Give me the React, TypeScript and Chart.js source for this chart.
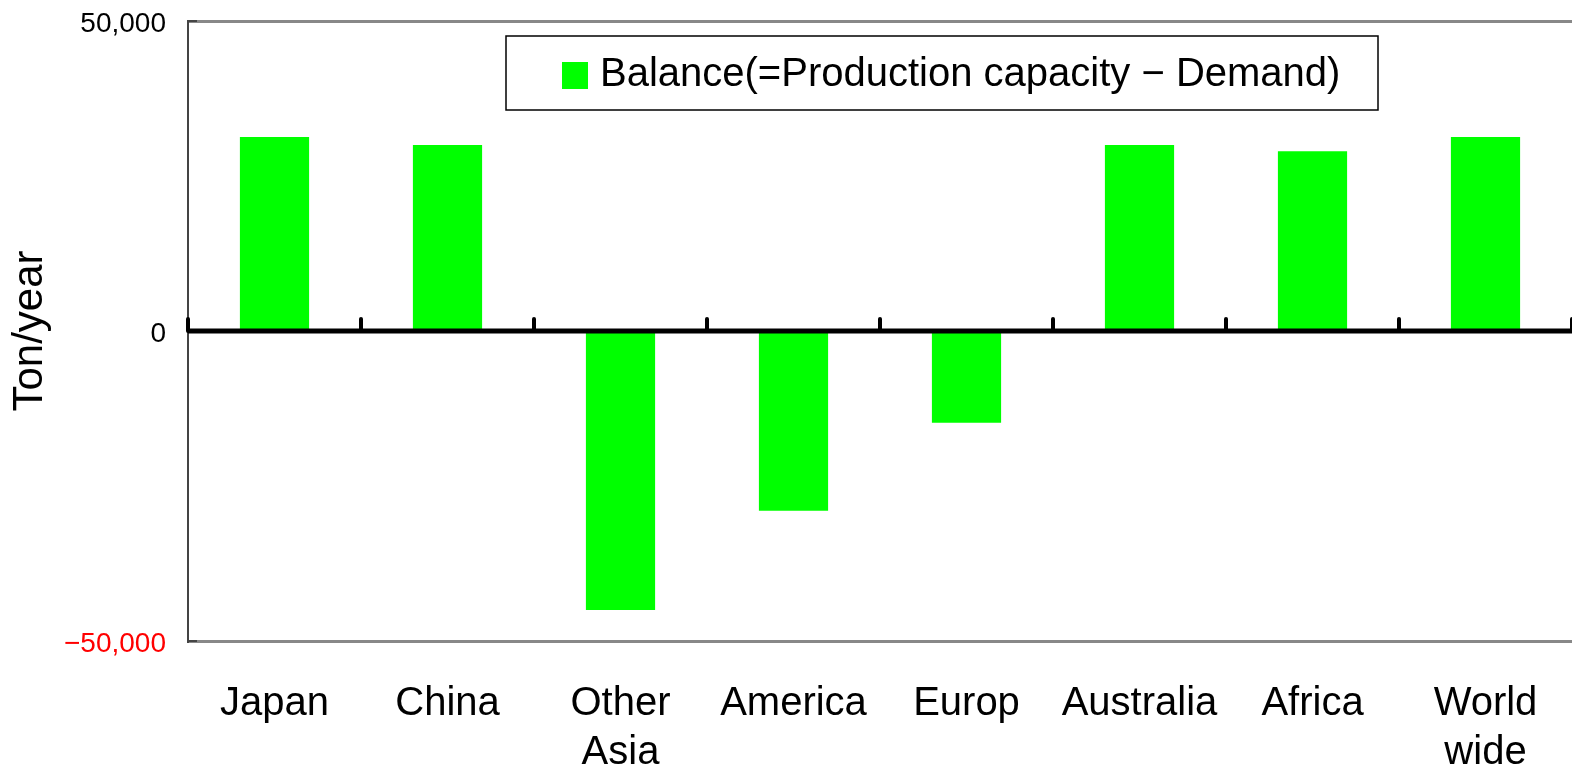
import React, { useEffect, useRef } from "react";
import { Chart, registerables } from "chart.js";

Chart.register(...registerables);

const categories: (string | string[])[] = [
  "Japan",
  "China",
  ["Other", "Asia"],
  "America",
  "Europ",
  "Australia",
  "Africa",
  ["World", "wide"],
];
const balanceValues: number[] = [31300, 30000, -45000, -29000, -14800, 30000, 29000, 31300];
const seriesLabel = "Balance(=Production capacity \u2212 Demand)";
const yTickValues: number[] = [-50000, 0, 50000];
const yTitle = "Ton/year";

const FONT = "'Liberation Sans', Arial, sans-serif";
const GREEN = "#00ff00";

const overlayPlugin = {
  id: "overlay",
  afterDatasetsDraw(chart: any) {
    const { ctx, chartArea, scales } = chart;
    const y0 = scales.y.getPixelForValue(0);
    const n = categories.length;
    const catW = (chartArea.right - chartArea.left) / n;
    ctx.save();
    // inward y ticks at the outer values
    ctx.strokeStyle = "#444";
    ctx.lineWidth = 2;
    for (const v of [yTickValues[0], yTickValues[yTickValues.length - 1]]) {
      const yy = scales.y.getPixelForValue(v);
      ctx.beginPath();
      ctx.moveTo(chartArea.left, yy);
      ctx.lineTo(chartArea.left + 9, yy);
      ctx.stroke();
    }
    // zero line
    ctx.strokeStyle = "#000";
    ctx.lineWidth = 5;
    ctx.lineCap = "butt";
    ctx.beginPath();
    ctx.moveTo(chartArea.left, y0);
    ctx.lineTo(chartArea.right, y0);
    ctx.stroke();
    // category boundary ticks
    ctx.lineWidth = 4;
    ctx.lineCap = "round";
    for (let i = 0; i <= n; i++) {
      const x = chartArea.left + i * catW;
      ctx.beginPath();
      ctx.moveTo(x, y0 - 12);
      ctx.lineTo(x, y0);
      ctx.stroke();
    }
    // legend box
    const bx = 506, by = 36, bw = 872, bh = 74;
    ctx.fillStyle = "#fff";
    ctx.fillRect(bx, by, bw, bh);
    ctx.lineCap = "butt";
    ctx.lineWidth = 1.5;
    ctx.strokeStyle = "#000";
    ctx.strokeRect(bx, by, bw, bh);
    ctx.fillStyle = GREEN;
    ctx.fillRect(562, 62, 26, 27);
    ctx.fillStyle = "#000";
    ctx.font = `40px ${FONT}`;
    ctx.textBaseline = "middle";
    ctx.textAlign = "left";
    ctx.fillText(chart.data.datasets[0].label, 600, 75);
    ctx.restore();
  },
};

export default function App() {
  const canvasRef = useRef<HTMLCanvasElement | null>(null);

  useEffect(() => {
    const canvas = canvasRef.current;
    if (!canvas) return;
    const chart = new Chart(canvas, {
      type: "bar",
      data: {
        labels: categories,
        datasets: [
          {
            label: seriesLabel,
            data: balanceValues,
            backgroundColor: GREEN,
            borderWidth: 0,
            categoryPercentage: 1,
            barPercentage: 0.4,
          },
        ],
      },
      options: {
        responsive: false,
        animation: false,
        events: [],
        layout: { padding: { top: 21, right: 0, bottom: 0, left: 0 } },
        plugins: {
          legend: { display: false },
          tooltip: { enabled: false },
        },
        scales: {
          x: {
            grid: { display: false, drawTicks: false },
            border: { display: false },
            ticks: {
              color: "#000",
              padding: 38,
              maxRotation: 0,
              autoSkip: false,
              font: { family: FONT, size: 40, lineHeight: 1.225 },
            },
            afterFit(scale: any) {
              scale.height = 130;
              scale.paddingLeft = 0;
              scale.paddingRight = 0;
            },
          },
          y: {
            min: -50000,
            max: 50000,
            afterBuildTicks(scale: any) {
              scale.ticks = yTickValues.map((v) => ({ value: v }));
            },
            grid: {
              drawTicks: false,
              color: (ctx: any) => (ctx.tick && ctx.tick.value === 0 ? "rgba(0,0,0,0)" : "#888888"),
              lineWidth: 3,
            },
            border: { display: true, color: "#444", width: 2 },
            ticks: {
              padding: 22,
              labelOffset: 3,
              color: (ctx: any) => (ctx.tick && ctx.tick.value < 0 ? "#ff0000" : "#000"),
              font: { family: FONT, size: 28 },
              callback: (v: any) => {
                const n = Number(v);
                const s = Math.abs(n).toLocaleString("en-US");
                return n < 0 ? "\u2212" + s : s;
              },
            },
            title: {
              display: true,
              text: yTitle,
              color: "#000",
              padding: { top: 5, bottom: 0 },
              font: { family: FONT, size: 42 },
            },
            afterFit(scale: any) {
              scale.width = 188;
              scale.paddingTop = 0;
              scale.paddingBottom = 0;
            },
          },
        },
      },
      plugins: [overlayPlugin],
    });
    return () => chart.destroy();
  }, []);

  return (
    <div style={{ position: "fixed", left: 0, top: 0, width: 1572, height: 771, background: "#fff" }}>
      <canvas ref={canvasRef} width={1572} height={771} style={{ display: "block" }} />
    </div>
  );
}
